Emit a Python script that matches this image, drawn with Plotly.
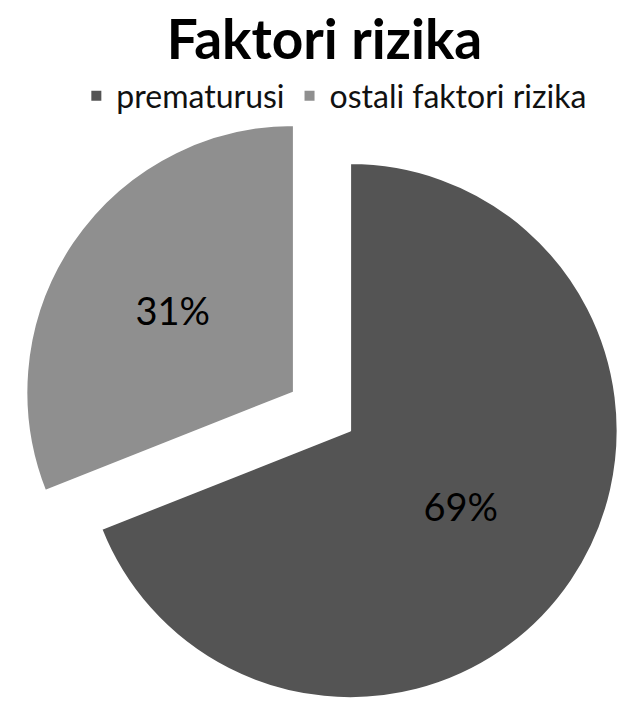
import plotly.graph_objects as go

# Risk factor shares (percent)
labels = ["prematurusi", "ostali faktori rizika"]
values = [69, 31]
colors = ["#545454", "#8f8f8f"]
explode = [0.127, 0.127]

W, H = 624, 713

fig = go.Figure(
    go.Pie(
        labels=labels,
        values=values,
        sort=False,
        direction="clockwise",
        rotation=0,
        pull=explode,
        marker=dict(colors=colors, line=dict(color="#ffffff", width=2)),
        textinfo="percent",
        texttemplate="%{percent:.0%}",
        textposition="inside",
        insidetextorientation="horizontal",
        textfont=dict(family="Lato", size=38, color="#000000"),
        hoverinfo="skip",
        domain=dict(x=[20 / W, 1.0], y=[0.0, 1 - 110 / H]),
    )
)

fig.update_layout(
    width=W,
    height=H,
    margin=dict(l=0, r=0, t=0, b=0),
    paper_bgcolor="#ffffff",
    plot_bgcolor="#ffffff",
    title=dict(
        text="Faktori rizika",
        font=dict(family="Lato", size=55, color="#000000", weight="bold"),
        x=0.52,
        xanchor="center",
        xref="paper",
        yref="container",
        y=1 - 40 / H,
        yanchor="middle",
    ),
    legend=dict(
        orientation="h",
        x=0.535,
        xanchor="center",
        y=1 - 96 / H,
        yanchor="middle",
        font=dict(family="Lato", size=32, color="#111111"),
        traceorder="normal",
        itemsizing="constant",
        itemwidth=30,
    ),
    showlegend=True,
)

fig.write_html("out.html")
